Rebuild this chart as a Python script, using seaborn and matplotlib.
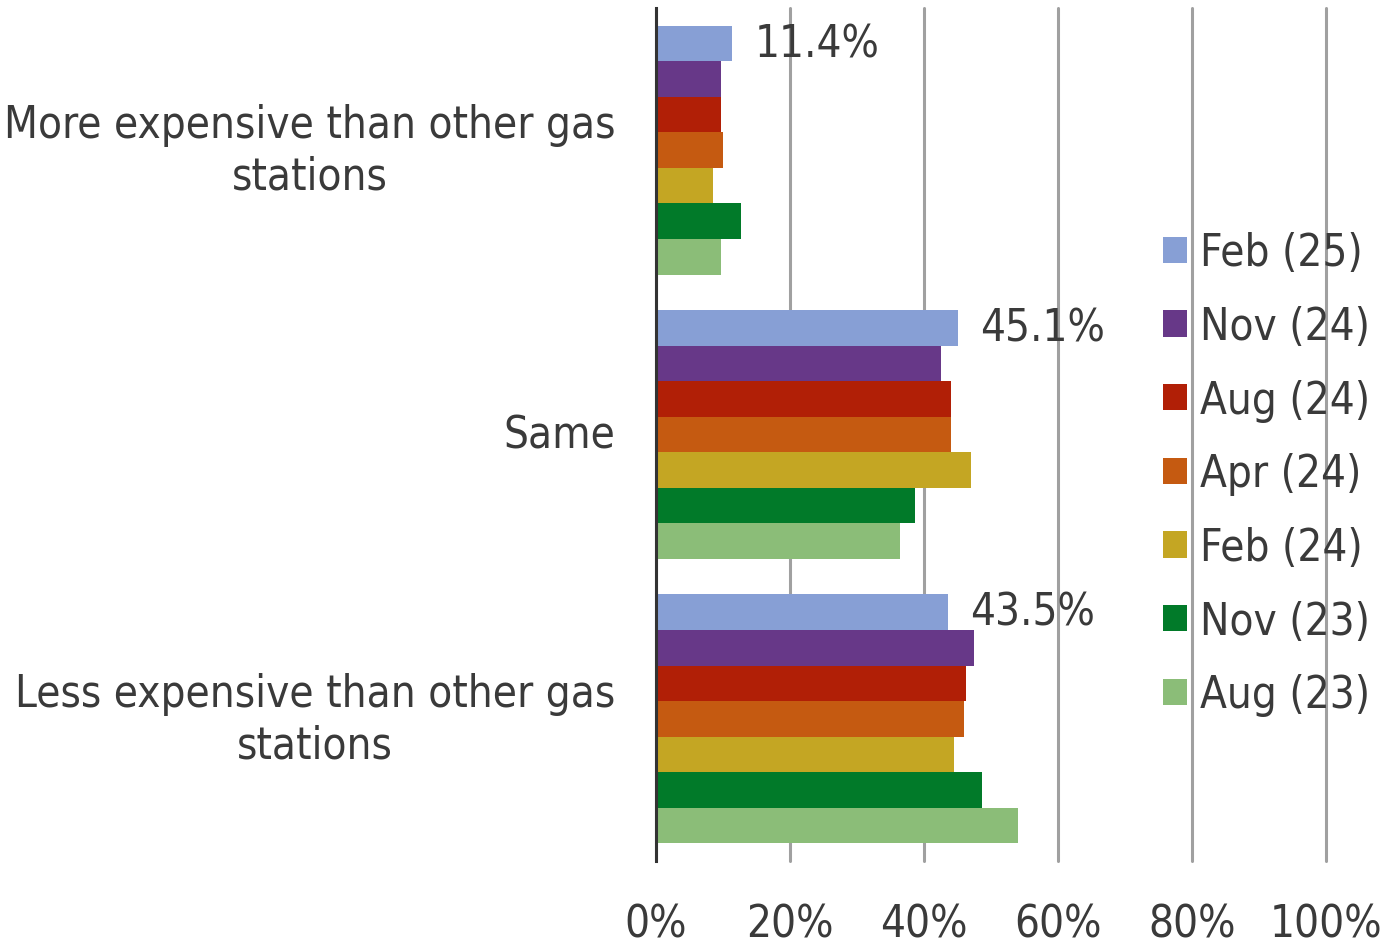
#!/usr/bin/env python
"""Perceived price of gas station vs. others, by survey wave."""
import matplotlib
matplotlib.use('Agg')
import matplotlib.pyplot as plt
import seaborn as sb
import pandas as pd

categories = ['More expensive than other gas\nstations',
              'Same',
              'Less expensive than other gas\nstations']
waves = ['Feb (25)', 'Nov (24)', 'Aug (24)', 'Apr (24)',
         'Feb (24)', 'Nov (23)', 'Aug (23)']

# percent share per wave, in category order
feb_25 = [11.4, 45.1, 43.5]
nov_24 = [9.7, 42.5, 47.5]
aug_24 = [9.7, 44.0, 46.3]
apr_24 = [10.0, 44.0, 46.0]
feb_24 = [8.5, 47.0, 44.5]
nov_23 = [12.7, 38.7, 48.7]
aug_23 = [9.7, 36.4, 54.0]

colors = ['#879FD5', '#673888', '#B11F06', '#C55A11',
          '#C4A623', '#017A29', '#8BBD78']
text_color = '#3a3a3a'
fsize = 31.5


def main():
    series = [feb_25, nov_24, aug_24, apr_24, feb_24, nov_23, aug_23]
    rows = []
    for wave, vals in zip(waves, series):
        for cat, v in zip(categories, vals):
            rows.append({'category': cat, 'wave': wave, 'pct': v})
    df = pd.DataFrame(rows)

    sb.set_style('white')
    plt.rcParams['font.family'] = ['DejaVu Sans']
    plt.rcParams['font.stretch'] = 'condensed'
    plt.rcParams['text.color'] = text_color

    fig = plt.figure(figsize=(14, 9.45), dpi=100)
    ax = fig.add_axes([0.4686, 0.0878, 0.4786, 0.9027])

    sb.barplot(data=df, y='category', x='pct', hue='wave',
               order=categories, hue_order=waves, palette=colors,
               orient='y', width=0.875, linewidth=0, saturation=1,
               errorbar=None, ax=ax)

    # data labels only for the latest wave
    for bar, v in zip(ax.containers[0], feb_25):
        ax.text(bar.get_width() + 3.3, bar.get_y() + bar.get_height() / 2,
                f'{v:.1f}%', va='center', ha='left', fontsize=fsize,
                color=text_color, fontstretch='condensed')

    ax.set_xlim(0, 100)
    ax.set_ylim(2.5, -0.5)
    ax.set_xticks([0, 20, 40, 60, 80, 100])
    ax.set_xticklabels([f'{t}%' for t in [0, 20, 40, 60, 80, 100]])
    ax.xaxis.grid(True, color='#a0a0a0', linewidth=2.2)
    for gl in ax.get_xgridlines():
        gl.set_clip_on(False)
    ax.set_axisbelow(True)
    ax.set_xlabel('')
    ax.set_ylabel('')
    for s in ['top', 'right', 'bottom']:
        ax.spines[s].set_visible(False)
    ax.spines['left'].set_color('#333333')
    ax.spines['left'].set_linewidth(2.2)
    ax.tick_params(axis='x', length=0, pad=30, labelsize=fsize,
                   labelcolor=text_color)
    ax.tick_params(axis='y', length=0, pad=29.5, labelsize=fsize,
                   labelcolor=text_color)
    for lbl in ax.get_yticklabels():
        lbl.set_multialignment('center')
        lbl.set_verticalalignment('center')
        lbl.set_linespacing(1.25)

    handles, labels = ax.get_legend_handles_labels()
    ax.legend(handles, labels, loc='center left',
              bbox_to_anchor=(0.815, 0.4975), bbox_transform=fig.transFigure,
              frameon=False, fontsize=fsize, borderpad=0,
              handlelength=0.55, handleheight=0.55, handletextpad=0.3,
              labelspacing=0.7, labelcolor=text_color)

    fig.savefig('out.png', dpi=100)


if __name__ == '__main__':
    main()
